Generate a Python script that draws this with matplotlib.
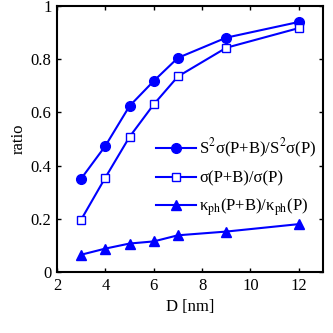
import matplotlib
matplotlib.use("Agg")
import matplotlib.pyplot as plt

D = [3, 4, 5, 6, 7, 9, 12]
pf_ratio = [0.351, 0.474, 0.624, 0.718, 0.805, 0.881, 0.940]
sigma_ratio = [0.197, 0.355, 0.508, 0.630, 0.735, 0.843, 0.917]
kappa_ratio = [0.065, 0.088, 0.107, 0.115, 0.138, 0.152, 0.180]
labels = [r"S$^2$σ(P+B)/S$^2$σ(P)", r"σ(P+B)/σ(P)", r"κ$_{\rm ph}$(P+B)/κ$_{\rm ph}$(P)"]
xticks = [2, 4, 6, 8, 10, 12]
yticks = [0, 0.2, 0.4, 0.6, 0.8, 1]
yticklabels = ["0", "0.2", "0.4", "0.6", "0.8", "1"]

plt.rcParams['font.family'] = ['Liberation Serif', 'DejaVu Serif']
plt.rcParams['mathtext.fontset'] = 'stix'
plt.rcParams['font.size'] = 12

fig = plt.figure(figsize=(3.33, 3.33), dpi=100)
ax = fig.add_axes([57/333, 1-272/333, (323-57)/333, (272-6)/333])
c = '#0000ff'
ax.plot(D, pf_ratio, '-o', color=c, lw=1.5, ms=7, label=labels[0])
ax.plot(D, sigma_ratio, '-s', color=c, lw=1.5, ms=6, mfc='white', mew=1.0, label=labels[1])
ax.plot(D, kappa_ratio, '-^', color=c, lw=1.5, ms=7.5, label=labels[2])
ax.set_xlim(2, 13)
ax.set_ylim(0, 1)
ax.set_xticks(xticks)
ax.set_yticks(yticks)
ax.set_yticklabels(yticklabels)
ax.set_xlabel("D [nm]", labelpad=4)
ax.set_ylabel("ratio", labelpad=3)
ax.tick_params(direction='in', top=True, right=True, length=3, width=1, pad=4)
for s in ax.spines.values():
    s.set_linewidth(1.5)
ax.legend(loc='center left', bbox_to_anchor=(0.372, 0.355), frameon=False,
          handlelength=2.4, handletextpad=0.2, labelspacing=0.6, borderaxespad=0,
          borderpad=0)
fig.savefig("out.png", dpi=100)
